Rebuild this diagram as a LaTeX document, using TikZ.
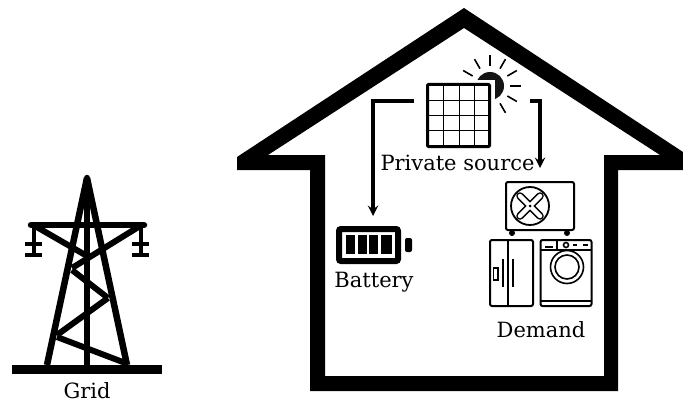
\documentclass[tikz,border=0pt]{standalone}
\usepackage{fontspec}
\setmainfont{DejaVu Serif}
\usetikzlibrary{arrows}
\tikzstyle{lbl} = [anchor=base,inner sep=0mm,font=\fontsize{21}{21}\selectfont]
\tikzstyle{tower} = [line width=6.5pt,line cap=round]
\tikzstyle{brace} = [line width=6pt]
\tikzstyle{box} = [draw,line width=2pt,rounded corners=2pt,inner sep=0mm]
\tikzstyle{feed} = [line width=3.5pt,-stealth,line join=miter]
\begin{document}
\begin{tikzpicture}[x=1pt,y=-1pt]
\useasboundingbox (0,0) rectangle (683,404);

% house
\fill[even odd rule] (464,8) -- (683,152) -- (683,170) -- (618,170) -- (618,391) -- (310,391) -- (310,170) -- (237,170) -- (237,157) -- cycle
 (464,28) -- (660,155) -- (604,155) -- (604,376) -- (325,376) -- (325,155) -- (268,155) -- cycle;

% grid
\fill (12,365) rectangle (162,374);
\draw[tower] (87,178) -- (87,365);
\draw[tower,line cap=butt] (87,178) -- (47,365);
\draw[tower,line cap=butt] (87,178) -- (127,365);
\draw[tower] (31,225) -- (144,225);
\draw[brace] (35,226) -- (87,256);
\draw[brace] (140,226) -- (72,268);
\draw[brace] (72,270) -- (108,298);
\draw[brace] (108,298) -- (57,335);
\draw[brace] (57,337) -- (128,364);
\foreach \x in {33.5,140.5} {
 \draw[line width=4pt] (\x,227) -- (\x,254);
 \draw[line width=4pt] (\x-8.5,243.5) -- (\x+8.5,243.5);
 \draw[line width=4pt] (\x-8.5,255) -- (\x+8.5,255);
}
\draw(87,398) node[lbl] (grid) {Grid};

% private source
\fill[black!92] (490,86) circle (14pt);
\foreach \a in {0,30,60,90,120,150,-30,-60} {
 \draw[line width=1.6pt] ({490+20*cos(\a)},{86-20*sin(\a)}) -- ({490+31*cos(\a)},{86-31*sin(\a)});
}
\fill[white] (423,80) rectangle (494.5,151);
\draw(458.5,115.5) node[draw,line width=3pt,rounded corners=1pt,minimum size=62pt,inner sep=0mm] (panel) {};
\foreach \x in {443,459,474} \draw[line width=0.7pt] (\x,85) -- (\x,146);
\foreach \y in {100,115,130} \draw[line width=0.7pt] (428,\y) -- (489,\y);
\draw(457.5,170) node[lbl] (source) {Private source};

% battery
\draw(368.5,245) node[draw,line width=6pt,rounded corners=2pt,minimum width=59pt,minimum height=32pt,inner sep=0mm] (battery) {};
\foreach \x/\w in {346/9,358/9,369/9,381/11} \fill (\x,235) rectangle (\x+\w,254);
\fill[rounded corners=2pt] (405,238) rectangle (412,252);
\draw(374,287) node[lbl] (batterytext) {Battery};

% demand
\draw(540,206) node[box,minimum width=68pt,minimum height=48pt] (ac) {};
\draw[line width=1.8pt] (530,206) circle (19pt);
\draw[line width=7.5pt,line cap=round] (520,196) -- (540,216) (540,196) -- (520,216);
\draw[line width=4.5pt,white,line cap=round] (520,196) -- (540,216) (540,196) -- (520,216);
\fill (530,206) circle (1.5pt);
\foreach \x in {512,567} \fill (\x,233) circle (3pt);
\draw(511.5,273) node[box,minimum width=43pt,minimum height=66pt] (fridge) {};
\draw[line width=1.6pt] (508,240) -- (508,306);
\draw[line width=1.5pt] (493.5,268) rectangle (498,280);
\draw[line width=1.5pt] (503,259) -- (503,287);
\draw[line width=1.5pt] (513,259) -- (513,287);
\draw(566,273) node[box,minimum width=51pt,minimum height=66pt] (washer) {};
\draw[line width=1.6pt] (540,250) -- (592,250);
\draw[line width=1.6pt] (540,301) -- (592,301);
\draw[line width=1.6pt] (557,240) -- (557,250);
\draw[line width=1.6pt] (566,245) circle (2.5pt);
\draw[line width=1.6pt] (545,247) -- (553,247);
\draw[line width=1.6pt] (573,245) -- (577,245);
\draw[line width=1.6pt] (583,245) -- (588,245);
\draw[line width=1.6pt] (567,267) circle (16.5pt);
\draw[line width=1.6pt] (567,267) circle (12pt);
\draw(541,337) node[lbl] (demand) {Demand};

% flows
\coordinate (panelleft) at ([shift={(-12,-14.5)}]panel.west);
\coordinate (panelright) at ([shift={(39,-14.5)}]panel.east);
\coordinate (batteryin) at (373,216);
\coordinate (acin) at (540,168);
\draw[feed] (panelleft) -| (batteryin);
\draw[feed] (panelright) -| (acin);
\end{tikzpicture}
\end{document}
